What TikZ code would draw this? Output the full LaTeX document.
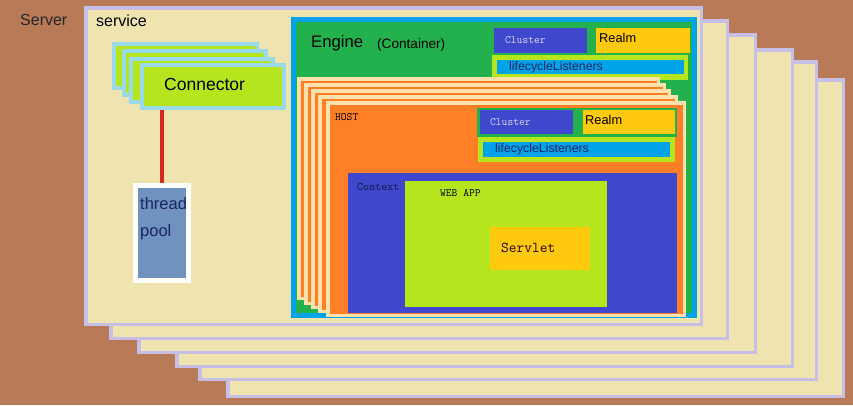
\documentclass[tikz,border=0pt]{standalone}
\usepackage{fontspec}
\setmainfont{Liberation Sans}
\usepackage{tikz}
\usepackage{xcolor}
\definecolor{pt_brown}{HTML}{B97A57}
\definecolor{pt_lavender}{HTML}{C8BFE7}
\definecolor{pt_cream}{HTML}{EFE4B0}
\definecolor{pt_turq}{HTML}{99D9EA}
\definecolor{pt_lime}{HTML}{B5E61D}
\definecolor{pt_bluegray}{HTML}{7092BE}
\definecolor{pt_red}{HTML}{D42A20}
\definecolor{pt_sky}{HTML}{00A2E8}
\definecolor{pt_green}{HTML}{22B14C}
\definecolor{pt_indigo}{HTML}{3F48CC}
\definecolor{pt_gold}{HTML}{FFC90E}
\definecolor{pt_orange}{HTML}{FF7F27}
\definecolor{pt_peach}{HTML}{FBE2AC}
\definecolor{pt_navy}{HTML}{1C2466}
\definecolor{pt_pale}{HTML}{D8D8F4}
\newcommand{\fsz}[1]{\fontsize{#1}{#1}\selectfont}
\usetikzlibrary{calc}

\begin{document}
\begin{tikzpicture}[x=1pt,y=-1pt,
    txt/.style={anchor=west,inner sep=0pt},
    mono/.style={txt,font=\ttfamily}]
            \useasboundingbox (0,0) rectangle (853,405);
            \fill[pt_brown] (0,0) rectangle (853,405); %Server
            \node[txt,text=black!85] (server) at (20,20) {\fsz{16}Server};
            %service
            \foreach \a/\b/\c/\d in {226/78/845/398, 198/60/818/381, 175/48/794/368, 137/33/757/354, 109/19/729/340, 84/6/703/326}
                \draw[draw=pt_lavender,fill=pt_cream,line width=3.5pt] (\a+1.75,\b+1.75) rectangle (\c-1.75,\d-1.75);
            \node[txt] (service) at (96,21) {\fsz{16}service};
            %Connector
            \foreach \a/\b/\c/\d in {112/42/259/90, 122/49/268/97, 129/57/275/104}
                \draw[draw=pt_turq,fill=pt_lime,line width=4pt] (\a+2,\b+2) rectangle (\c-2,\d-2);
            \node[draw=pt_turq,fill=pt_lime,line width=4pt,minimum width=142,minimum height=43,inner sep=0pt] (conn) at (213,86.5) {};
            \node[txt] (conntxt) at (164,84) {\fsz{17.5}Connector};
            %thread pool
            \node[draw=white,fill=pt_bluegray,line width=5pt,minimum width=53,minimum height=95,inner sep=0pt] (pool) at (162,233) {};
            \draw[pt_red,line width=4pt] (pool.north) -- (pool.north |- conn.south);
            \node[txt,text=pt_navy] (thread) at (140,204) {\fsz{16.5}thread};
            \node[txt,text=pt_navy] (poolb) at (140,232.5) {\fsz{16.5}pool};
            %Engine
            \draw[draw=pt_sky,fill=pt_green,line width=5pt] (293.5,19.5) rectangle (694.5,315.5);
            \node[txt] (engine) at (311,43) {\fsz{16.7}Engine};
            \node[txt] (container) at (377,45) {\fsz{13.6}(Container)};
            \fill[pt_indigo] (494,28) rectangle (587,53);
            \node[mono,text=pt_pale] (ecluster) at (505,40) {\fsz{11.2}Cluster};
            \fill[pt_gold] (596,28) rectangle (690,53);
            \node[txt] (erealm) at (599,38) {\fsz{12.8}Realm};
            \fill[pt_lime] (492,55) rectangle (688,80);
            \fill[pt_sky] (497,60) rectangle (684,74);
            \node[txt,text=pt_navy] (elisten) at (509,67.5) {\fsz{12.3}lifecycleListeners};
            %HOST
            \foreach \a/\b/\c/\d in {297/77/660/300, 304/83/666/305, 311/89/671/309, 318/95/678/313, 326/101/686/317}
                \draw[draw=pt_peach,fill=pt_orange,line width=3.5pt] (\a+1.75,\b+1.75) rectangle (\c-1.75,\d-1.75);
            \node[mono] (host) at (335,117) {\fsz{11.2}HOST};
            \fill[pt_green] (477,108) rectangle (677,137);
            \fill[pt_indigo] (480,110) rectangle (573,134);
            \node[mono,text=pt_pale] (hcluster) at (490,122) {\fsz{11.2}Cluster};
            \fill[pt_gold] (583,110) rectangle (675,134);
            \node[txt] (hrealm) at (585,120) {\fsz{12.8}Realm};
            \fill[pt_lime] (478,137) rectangle (675,162);
            \fill[pt_sky] (483,142) rectangle (670,157);
            \node[txt,text=pt_navy] (hlisten) at (495,149.5) {\fsz{12.3}lifecycleListeners};
            %Context, WEB APP, Servlet
            \fill[pt_indigo] (348,173) rectangle (677,313);
            \node[mono,text=pt_navy!70!black] (context) at (357,187) {\fsz{11.7}Context};
            \fill[pt_lime] (405,181) rectangle (607,307);
            \node[mono] (webapp) at (440,193) {\fsz{11.2}WEB APP};
            \fill[pt_gold] (490,227) rectangle (590,270);
            \node[mono,text=black!85!red] (servlet) at (501,248) {\fsz{15}Servlet};
        \end{tikzpicture}
\end{document}
